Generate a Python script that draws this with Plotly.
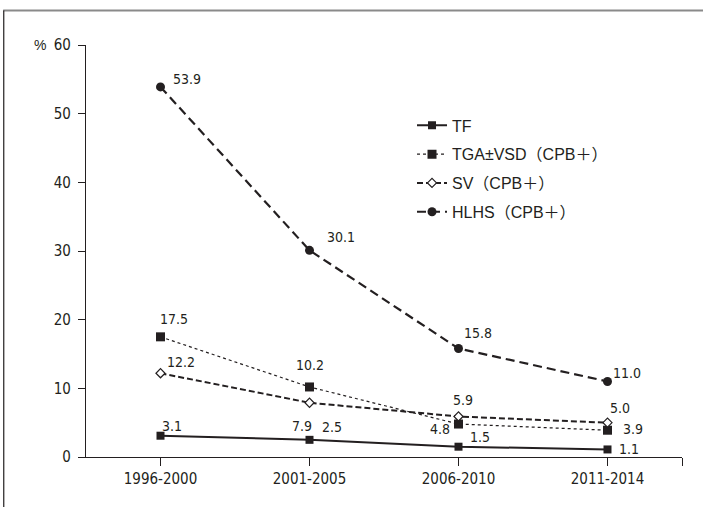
import plotly.graph_objects as go

periods = ["1996-2000", "2001-2005", "2006-2010", "2011-2014"]
tf = [3.1, 2.5, 1.5, 1.1]
tga = [17.5, 10.2, 4.8, 3.9]
sv = [12.2, 7.9, 5.9, 5.0]
hlhs = [53.9, 30.1, 15.8, 11.0]
series_names = ["TF", "TGA±VSD（CPB＋）", "SV（CPB＋）", "HLHS（CPB＋）"]
y_ticks = [0, 10, 20, 30, 40, 50, 60]

INK = "#231f20"
NARROW = "DejaVu Sans Condensed, Liberation Sans Narrow, sans-serif"
REG = "Liberation Sans, Noto Sans CJK KR, sans-serif"

xs = list(range(len(periods)))

styles = [
    dict(line=dict(color=INK, width=2, dash="solid"),
         marker=dict(symbol="square", size=8, color=INK)),
    dict(line=dict(color=INK, width=1.2, dash="dot"),
         marker=dict(symbol="square", size=9, color=INK)),
    dict(line=dict(color=INK, width=2, dash="6px,3px"),
         marker=dict(symbol="diamond", size=7, color="white", line=dict(color=INK, width=1.2))),
    dict(line=dict(color=INK, width=2.2, dash="9px,5px"),
         marker=dict(symbol="circle", size=9, color=INK)),
]

# label offsets (pixels) for each series/point
offsets = [
    [(11, 10), (22, 13), (21, 10), (21, 0)],
    [(13, 18), (0, 22), (-19, -5), (25, 1)],
    [(20, 11), (-8, -23), (4, 16), (12, 15)],
    [(26, 8), (31, 13), (19, 16), (19, 8)],
]

fig = go.Figure()
all_series = [tf, tga, sv, hlhs]
for i, (name, vals) in enumerate(zip(series_names, all_series)):
    fig.add_trace(go.Scatter(
        x=xs, y=vals, name=name, mode="lines+markers",
        legendgroup=f"g{i}", **styles[i]))
    for j, v in enumerate(vals):
        dx, dy = offsets[i][j]
        fig.add_annotation(x=xs[j], y=v, text=f"{v:.1f}", showarrow=False,
                           xshift=dx, yshift=dy,
                           font=dict(family=NARROW, size=14, color=INK))

fig.add_annotation(xref="paper", yref="y", x=-0.064, y=60, text="%", showarrow=False,
                   xanchor="right", font=dict(family=REG, size=14, color=INK))

# partial frame
fig.add_shape(type="line", xref="paper", yref="paper", x0=-0.139, x1=1.1, y0=1.084, y1=1.084,
              line=dict(color="#8a8a8a", width=2))
fig.add_shape(type="line", xref="paper", yref="paper", x0=-0.138, x1=-0.138, y0=1.084, y1=-0.2,
              line=dict(color=INK, width=1.2))

fig.update_layout(
    width=703, height=507,
    margin=dict(l=86, r=21, t=45, b=50, autoexpand=False),
    paper_bgcolor="white", plot_bgcolor="white",
    showlegend=True,
    legend=dict(x=0.547, y=0.846, xanchor="left", yanchor="top",
                font=dict(family=REG, size=16, color=INK),
                tracegroupgap=5, traceorder="grouped",
                bgcolor="rgba(0,0,0,0)", itemwidth=30),
    xaxis=dict(range=[-0.5, 3.5], tickmode="array",
               tickvals=[0, 1, 2, 3, 3.5], ticktext=periods + [""],
               showline=True, linecolor=INK, linewidth=1.2,
               ticks="outside", ticklen=8, tickcolor=INK,
               showgrid=False, zeroline=False, automargin=False,
               ticklabelstandoff=0,
               tickfont=dict(family=NARROW, size=15, color=INK)),
    yaxis=dict(range=[0, 60], tickmode="array", tickvals=y_ticks,
               showline=True, linecolor=INK, linewidth=1.2,
               ticks="outside", ticklen=7, tickcolor=INK,
               showgrid=False, zeroline=False, automargin=False,
               ticklabelstandoff=4,
               tickfont=dict(family=NARROW, size=15, color=INK)),
)

fig.write_html("out.html", config={"displayModeBar": False},
               post_script="document.body.style.margin='0px';")
